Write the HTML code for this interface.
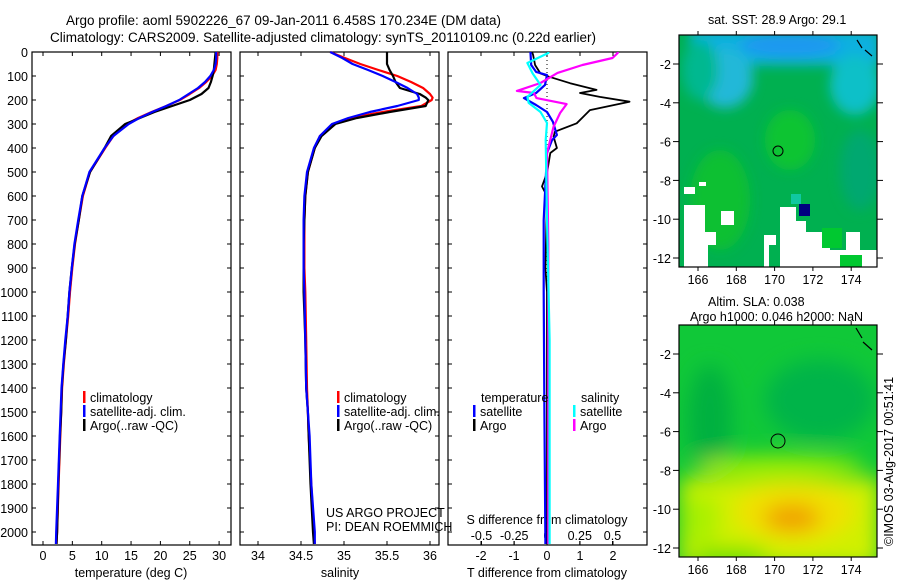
<!DOCTYPE html>
<html><head><meta charset="utf-8"><style>
html,body{margin:0;padding:0;background:#fff;}
svg{display:block;font-family:"Liberation Sans",sans-serif;}
text{font-size:12.5px;fill:#000;}
</style></head><body>
<svg id="fig" width="900" height="580" viewBox="0 0 900 580">
<defs>
<filter id="bl" x="-20%" y="-20%" width="140%" height="140%"><feGaussianBlur stdDeviation="6"/></filter>
<filter id="bl2" x="-20%" y="-20%" width="140%" height="140%"><feGaussianBlur stdDeviation="10"/></filter>
<clipPath id="m1c"><rect x="679" y="35" width="198" height="232"/></clipPath>
<clipPath id="m2c"><rect x="679" y="325" width="198" height="232"/></clipPath>
</defs>
<text x="66" y="25" style="font-size:13.5px">Argo profile: aoml 5902226_67 09-Jan-2011 6.458S 170.234E (DM data)</text>
<text x="50" y="42" style="font-size:13.5px">Climatology: CARS2009. Satellite-adjusted climatology: synTS_20110109.nc (0.22d earlier)</text>

<g id="panels"></g>

<!-- Map 1: SST -->
<g>
<text x="708" y="24">sat. SST: 28.9 Argo: 29.1</text>
<g clip-path="url(#m1c)">
<rect x="679" y="35" width="198" height="232" fill="#00b050"/>
<g filter="url(#bl)">
<rect x="690" y="30" width="190" height="35" fill="#10b0e0"/>
<ellipse cx="725" cy="78" rx="28" ry="30" fill="#20b8d8"/>
<ellipse cx="790" cy="45" rx="50" ry="12" fill="#1a98f0"/>
<ellipse cx="855" cy="85" rx="25" ry="30" fill="#10c0c8"/>
<ellipse cx="700" cy="70" rx="18" ry="30" fill="#00b890"/>
<ellipse cx="720" cy="200" rx="30" ry="50" fill="#10c030"/>
<ellipse cx="790" cy="140" rx="25" ry="30" fill="#10c430"/>
<ellipse cx="860" cy="170" rx="20" ry="40" fill="#00a870"/>
</g>
<rect x="684" y="187" width="11" height="7" fill="#fff"/>
<rect x="699" y="182" width="7" height="4" fill="#fff"/>
<path d="M684 205 H705 V232 H716 V245 H708 V267 H684 Z" fill="#fff"/>
<path d="M721 211 H734 V225 H721 Z" fill="#fff"/>
<path d="M764 235 H776 V245 H769 V267 H679 V267 H764 Z" fill="#fff"/>
<path d="M780 207 H796 V221 H806 V232 H830 V250 H846 V232 H860 V250 H877 V267 H780 Z" fill="#fff"/>
<rect x="822" y="228" width="20" height="20" fill="#00c830"/>
<rect x="840" y="255" width="22" height="12" fill="#00c830"/>
<rect x="791" y="194" width="10" height="10" fill="#10c8a0"/>
<rect x="799" y="204" width="11" height="12" fill="#000080"/>
<path d="M857 40 L862 48 M865 50 L872 56" stroke="#000" stroke-width="1.2"/>
<circle cx="778" cy="151" r="5" fill="none" stroke="#000" stroke-width="1"/>
</g>
<rect x="679" y="35" width="198" height="232" fill="none" stroke="#000" stroke-width="1.2"/>
</g>

<!-- Map 2: SLA -->
<g>
<text x="708" y="306">Altim. SLA: 0.038</text>
<text x="690" y="321">Argo h1000: 0.046 h2000: NaN</text>
<g clip-path="url(#m2c)">
<rect x="679" y="325" width="198" height="232" fill="#10c838"/>
<g filter="url(#bl2)">
<rect x="680" y="478" width="200" height="90" fill="#d0f000"/>
<ellipse cx="710" cy="420" rx="22" ry="55" fill="#00b040"/>
<ellipse cx="820" cy="400" rx="55" ry="40" fill="#00b448"/>
<ellipse cx="795" cy="512" rx="60" ry="30" fill="#f0e000"/>
<ellipse cx="792" cy="518" rx="28" ry="14" fill="#f0a000"/>
<ellipse cx="700" cy="520" rx="18" ry="28" fill="#a8f000"/>
<ellipse cx="780" cy="466" rx="85" ry="10" fill="#a0f000"/>
<ellipse cx="730" cy="556" rx="40" ry="8" fill="#60e000"/>
</g>
<path d="M856 328 L862 338 M863 342 L872 350" stroke="#000" stroke-width="1.2"/>
<circle cx="778" cy="441" r="7" fill="none" stroke="#000" stroke-width="1"/>
</g>
<rect x="679" y="325" width="198" height="232" fill="none" stroke="#000" stroke-width="1.2"/>
</g>
<text transform="translate(893,546) rotate(-90)">©IMOS 03-Aug-2017 00:51:41</text>
</svg>

<script>
// depth grids
var depthsT = [0,25,50,75,100,125,150,175,200,225,250,275,300,350,400,500,600,700,800,900,1000,1100,1200,1300,1400,1500,1600,1800,2000,2050];
var tempClim = [29.7,29.7,29.6,29.4,28.8,27.8,26.6,25.0,23.3,21.0,18.5,16.2,14.3,12.0,10.6,8.0,6.8,6.1,5.45,5.0,4.6,4.3,3.9,3.55,3.25,3.1,2.95,2.65,2.4,2.3];
var tempSat  = [29.5,29.5,29.4,29.1,28.5,27.6,26.4,24.8,23.2,21.0,18.6,16.4,14.6,12.0,10.5,7.9,6.7,6.0,5.35,4.9,4.5,4.2,3.8,3.45,3.15,3.0,2.85,2.55,2.25,2.2];
var tempArgo = [29.4,29.3,29.2,29.1,28.9,28.6,28.2,27.0,25.0,22.0,19.0,16.5,14.0,11.6,10.5,8.0,6.7,6.1,5.4,4.9,4.5,4.2,3.9,3.5,3.2,3.1,2.9,2.6,2.4,2.3];
var depthsS = [0,25,50,75,100,125,150,175,190,200,225,250,275,300,350,400,500,600,700,800,900,1000,1200,1400,1500,1600,1800,2000,2050];
var salClim = [34.84,35.01,35.19,35.4,35.62,35.78,35.92,36.0,36.03,36.02,35.9,35.45,35.07,34.87,34.72,34.66,34.58,34.55,34.54,34.54,34.54,34.55,34.56,34.57,34.58,34.59,34.62,34.65,34.66];
var salSat  = [34.84,34.98,35.1,35.28,35.45,35.6,35.74,35.85,35.87,35.87,35.62,35.3,35.05,34.86,34.72,34.65,34.57,34.54,34.53,34.53,34.53,34.54,34.55,34.56,34.58,34.6,34.62,34.66,34.66];
var salArgo = [35.5,35.5,35.5,35.53,35.57,35.6,35.65,35.88,35.95,35.98,35.95,35.53,35.15,34.9,34.74,34.66,34.58,34.55,34.54,34.53,34.53,34.53,34.55,34.56,34.58,34.59,34.61,34.64,34.65];
var depthsTA = [0,12,54,89,103,130,158,171,187,207,242,270,297,332,353,400,421,504,560,600,900,1000,1500,2050];
var dTArgo = [-0.45,-0.42,-0.36,-0.2,0.06,0.7,1.5,1.0,1.6,2.5,1.3,1.1,0.9,0.24,0.2,0.3,0.1,0,-0.15,0,-0.05,0,0,0];
var depthsTS = [0,4,54,83,96,137,171,192,221,250,291,346,367,421,700,1000,1500,2050];
var dTSat = [-0.5,-0.5,-0.48,-0.33,0,-0.06,-0.33,-0.7,-0.33,0,0.18,0.3,0.15,0,-0.1,-0.1,-0.08,-0.05];
var depthsSS = [0,4,46,89,137,187,212,250,296,367,700,1200,2050];
var dSSat = [0.01,0.01,-0.15,-0.11,-0.05,-0.15,-0.14,-0.05,0,-0.01,0.0,0.02,0.02];
var depthsSA = [0,4,25,54,87,129,162,171,192,217,254,312,421,800,2050];
var dSArgo = [0.54,0.54,0.5,0.27,0.08,-0.05,-0.23,-0.1,-0.08,0.15,0.1,0.05,0,0.01,0.01];
var depthTicks = [0,100,200,300,400,500,600,700,800,900,1000,1100,1200,1300,1400,1500,1600,1700,1800,1900,2000];
var tempTicks = [0,5,10,15,20,25,30];
var salTicks = [34,34.5,35,35.5,36];
var dTTicks = [-2,-1,0,1,2];
var dSTicks = [-0.5,-0.25,0,0.25,0.5];
var dSTickLabels = ["-0.5","-0.25","0","0.25","0.5"];

var NS='http://www.w3.org/2000/svg';
var root=document.getElementById('panels');
function mk(tag,attrs,parent){var e=document.createElementNS(NS,tag);for(var k in attrs)e.setAttribute(k,attrs[k]);(parent||root).appendChild(e);return e;}
var TOP=52, BOT=545;
function yD(d){return TOP+d*0.24;}
function xT(v){return 43+v*5.87;}
function xS(v){return 258+(v-34)*86;}
function xdT(v){return 547+v*33;}
function xdS(v){return 547+v*131;}
function txt(x,y,s,anchor,parent){var t=mk('text',{x:x,y:y,'text-anchor':anchor||'start'},parent);t.textContent=s;return t;}

var panels=[{x0:32,x1:231,name:'temperature-panel'},{x0:240,x1:439,name:'salinity-panel'},{x0:448,x1:647,name:'difference-panel'}];
panels.forEach(function(p,i){
  var g=mk('g',{});
  
  
  p.g=g;
  var r=mk('rect',{x:p.x0,y:TOP,width:p.x1-p.x0,height:BOT-TOP,fill:'none',stroke:'#000','stroke-width':1.2},g);
  
  
  depthTicks.forEach(function(d){
    var y=yD(d);
    mk('line',{x1:p.x0,x2:p.x0+4,y1:y,y2:y,stroke:'#000'},g);
    mk('line',{x1:p.x1-4,x2:p.x1,y1:y,y2:y,stroke:'#000'},g);
    if(i==0){var t=txt(28,y+5,String(d),'end',g);
      
      }
  });
});
function xticks(p,ticks,fx,labels,ly,top){
  ticks.forEach(function(v,k){var x=fx(v);
    mk('line',{x1:x,x2:x,y1:BOT,y2:BOT-4,stroke:'#000'},p.g);
    if(top) mk('line',{x1:x,x2:x,y1:TOP,y2:TOP+4,stroke:'#000'},p.g);
    var t=txt(x,ly,labels?labels[k]:String(v),'middle',p.g);
    
    
  });
}
xticks(panels[0],tempTicks,xT,null,560,true);
xticks(panels[1],salTicks,xS,null,560,true);
xticks(panels[2],dTTicks,xdT,null,560,true);
xticks(panels[2],dSTicks,xdS,dSTickLabels,540,false);
var at=txt(131,577,'temperature (deg C)','middle',panels[0].g);


var as=txt(340,577,'salinity','middle',panels[1].g);


var ad=txt(547,577,'T difference from climatology','middle',panels[2].g);


var asd=txt(547,524,'S difference from climatology','middle',panels[2].g);


var zl=mk('line',{x1:xdT(0),x2:xdT(0),y1:TOP,y2:BOT,stroke:'#000','stroke-dasharray':'1,3'},panels[2].g);



function series(p,depths,vals,fx,color,name,w){
  var d='';
  for(var k=0;k<vals.length;k++){d+=(k?'L':'M')+fx(vals[k]).toFixed(1)+' '+yD(depths[k]).toFixed(1);}
  var e=mk('path',{d:d,fill:'none',stroke:color,'stroke-width':w||2.2,'stroke-linejoin':'round'},p.g);
  
  
}
series(panels[0],depthsT,tempClim,xT,'#ff0000','temperature-climatology-line');
series(panels[0],depthsT,tempArgo,xT,'#000000','temperature-argo-line');
series(panels[0],depthsT,tempSat,xT,'#0000ff','temperature-satellite-line');
series(panels[1],depthsS,salClim,xS,'#ff0000','salinity-climatology-line');
series(panels[1],depthsS,salArgo,xS,'#000000','salinity-argo-line');
series(panels[1],depthsS,salSat,xS,'#0000ff','salinity-satellite-line');
series(panels[2],depthsTA,dTArgo,xdT,'#000000','t-diff-argo-line',1.8);
series(panels[2],depthsTS,dTSat,xdT,'#0000ff','t-diff-satellite-line');
series(panels[2],depthsSA,dSArgo,xdS,'#ff00ff','s-diff-argo-line');
series(panels[2],depthsSS,dSSat,xdS,'#00ffff','s-diff-satellite-line');

function legend(p,x,y,color,label){
  var g=mk('g',{},p.g);
  
  
  mk('rect',{x:x,y:y-11,width:2.5,height:12,fill:color},g);
  txt(x+7,y,label,'start',g);
}
legend(panels[0],83,402,'#ff0000','climatology');
legend(panels[0],83,416,'#0000ff','satellite-adj. clim.');
legend(panels[0],83,430,'#000000','Argo(..raw -QC)');
legend(panels[1],337,402,'#ff0000','climatology');
legend(panels[1],337,416,'#0000ff','satellite-adj. clim.');
legend(panels[1],337,430,'#000000','Argo(..raw -QC)');
var lt=txt(481,402,'temperature','start',panels[2].g);


var ls=txt(581,402,'salinity','start',panels[2].g);


legend(panels[2],473,416,'#0000ff','satellite');
legend(panels[2],473,430,'#000000','Argo');
legend(panels[2],573,416,'#00ffff','satellite');
legend(panels[2],573,430,'#ff00ff','Argo');
var c1=txt(326,517,'US ARGO PROJECT','start',panels[1].g);


var c2=txt(326,531,'PI: DEAN ROEMMICH','start',panels[1].g);



var lonTicks=[166,168,170,172,174];
var latTicks=[-2,-4,-6,-8,-10,-12];
function mapAxes(y0,y1,latRef,name){
  var g=mk('g',{},document.getElementById('fig'));
  
  
  lonTicks.forEach(function(v){var x=698+(v-166)*19.15;
    mk('line',{x1:x,x2:x,y1:y1,y2:y1+4,stroke:'#000'},g);
    mk('line',{x1:x,x2:x,y1:y0,y2:y0-4,stroke:'#000'},g);
    txt(x,y1+17,String(v),'middle',g);});
  latTicks.forEach(function(v){var y=latRef+(-2-v)*19.4;
    mk('line',{x1:673,x2:679,y1:y,y2:y,stroke:'#000'},g);
    mk('line',{x1:877,x2:883,y1:y,y2:y,stroke:'#000'},g);
    txt(671,y+5,String(v),'end',g);});
}
mapAxes(35,267,64,'sst-map-axes');
mapAxes(325,557,354,'sla-map-axes');
</script>
</body></html>
